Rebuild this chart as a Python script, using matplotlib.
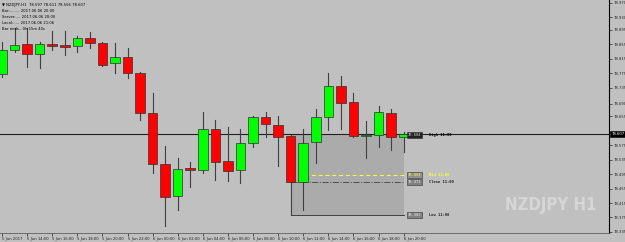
import matplotlib
matplotlib.use("Agg")
import matplotlib.pyplot as plt
from matplotlib.patches import Rectangle
from matplotlib.transforms import blended_transform_factory

# NZDJPY H1 bars, 5 Jun 12:00 .. 6 Jun 20:00
opens = [78.773, 78.840, 78.856, 78.829, 78.856, 78.853, 78.851, 78.873, 78.859, 78.804,
         78.820, 78.776, 78.665, 78.523, 78.435, 78.512, 78.507, 78.620, 78.532, 78.507,
         78.582, 78.654, 78.632, 78.601, 78.473, 78.584, 78.654, 78.740, 78.695, 78.601,
         78.604, 78.665, 78.597]
highs = [78.862, 78.901, 78.901, 78.862, 78.892, 78.892, 78.878, 78.890, 78.861, 78.859,
         78.845, 78.779, 78.720, 78.573, 78.540, 78.529, 78.668, 78.645, 78.626, 78.620,
         78.657, 78.668, 78.657, 78.604, 78.620, 78.676, 78.776, 78.768, 78.720, 78.643,
         78.684, 78.676, 78.611]
lows = [78.765, 78.834, 78.792, 78.790, 78.840, 78.826, 78.834, 78.845, 78.795, 78.776,
        78.762, 78.645, 78.498, 78.351, 78.396, 78.460, 78.498, 78.479, 78.476, 78.471,
        78.571, 78.598, 78.518, 78.382, 78.396, 78.526, 78.618, 78.620, 78.598, 78.540,
        78.571, 78.562, 78.556]
closes = [78.840, 78.853, 78.829, 78.856, 78.851, 78.848, 78.873, 78.859, 78.798, 78.820,
          78.776, 78.665, 78.523, 78.432, 78.510, 78.507, 78.620, 78.529, 78.504, 78.582,
          78.654, 78.634, 78.598, 78.473, 78.582, 78.654, 78.740, 78.693, 78.601, 78.604,
          78.668, 78.598, 78.607]

time_labels = ["5 Jun 2017", "5 Jun 14:00", "5 Jun 16:00", "5 Jun 18:00", "5 Jun 20:00",
               "5 Jun 22:00", "6 Jun 00:00", "6 Jun 02:00", "6 Jun 04:00", "6 Jun 06:00",
               "6 Jun 08:00", "6 Jun 10:00", "6 Jun 12:00", "6 Jun 14:00", "6 Jun 16:00",
               "6 Jun 18:00", "6 Jun 20:00"]
price_labels = ["78.970", "78.930", "78.895", "78.855", "78.815", "78.775", "78.735",
                "78.690", "78.655", "78.575", "78.535", "78.495", "78.455", "78.415",
                "78.375", "78.335"]
info_lines = ["Bar:........ 2017.06.06 20:00",
              "Server:.... 2017.06.06 20:00",
              "Local:..... 2017.06.06 21:06",
              "Bar ends.. 0h 15m 40s"]

ref_bar = 23          # the 11:00 bar used for the hi/lo box
ref_name = "11:00"

BG = "#c0c0c0"
EDGE = "#303030"
FS = 2.7

fig = plt.figure(figsize=(6.25, 2.42), dpi=100, facecolor=BG)
ax = fig.add_axes([0, 9 / 242, 609 / 625, 233 / 242], facecolor=BG)

n = len(opens)
px_per_bar = 12.55
x0 = -2 / px_per_bar
ax.set_xlim(x0, x0 + 609 / px_per_bar)
ax.set_ylim(78.332, 78.978)

# hi/lo box of reference bar
hi, lo, cl = highs[ref_bar], lows[ref_bar], closes[ref_bar]
mid = (hi + lo) / 2
last = n - 1
ax.add_patch(Rectangle((ref_bar, lo), last - ref_bar, hi - lo,
                       facecolor="#ababab", edgecolor="none", zorder=1))
ax.plot([ref_bar, ref_bar], [lo, hi], color="#404040", lw=0.7, zorder=1.5)
ax.plot([ref_bar, last], [lo, lo], color="#404040", lw=0.7, zorder=1.5)
ax.plot([ref_bar, last], [mid, mid], color="#ffff30", lw=0.7, ls=(0, (4, 3)), zorder=1.5)
ax.plot([ref_bar, last], [cl, cl], color="#505050", lw=0.7, ls="-.", zorder=1.5)

# bid line
ax.axhline(closes[-1], color="#202020", lw=0.8, zorder=1.6)

# candles
w = 0.76
for i in range(n):
    o, h, l, c = opens[i], highs[i], lows[i], closes[i]
    ax.plot([i, i], [l, h], color="#404040", lw=0.8, zorder=2)
    col = "#00ff00" if c > o else "#ff0000"
    bot, top = min(o, c), max(o, c)
    if top - bot < 0.0015:
        ax.plot([i - w / 2, i + w / 2], [o, o], color=EDGE, lw=0.8, zorder=3)
    else:
        ax.add_patch(Rectangle((i - w / 2, bot), w, top - bot, facecolor=col,
                               edgecolor=EDGE, lw=0.5, zorder=3))

# price tags and names for the box lines
tag_x = last + (407 - 403) / px_per_bar
name_x = last + (428 - 403) / px_per_bar
tags = [(hi, "High", "#000000", "#d8d8d8", "#202020"),
        (mid, "Mid", "#ffff30", "#ffff30", "#909090"),
        (cl, "Close", "#202020", "#f0f0f0", "#808080"),
        (lo, "Low", "#202020", "#f0f0f0", "#808080")]
for val, name, ncol, tcol, bcol in tags:
    ax.text(tag_x, val, f"{val:.3f}", fontsize=FS, color=tcol, va="center", ha="left",
            family="DejaVu Sans Mono", zorder=5,
            bbox=dict(boxstyle="square,pad=0.25", fc=bcol, ec="#303030", lw=0.4))
    ax.text(name_x, val, f"{name} {ref_name}", fontsize=FS, color=ncol, va="center",
            ha="left", family="DejaVu Sans Mono", fontweight="bold", zorder=5)

# axes styling
for s in ["left", "top"]:
    ax.spines[s].set_visible(False)
ax.spines["right"].set_color("black")
ax.spines["right"].set_linewidth(0.8)
ax.spines["bottom"].set_color("#606060")
ax.spines["bottom"].set_linewidth(0.6)

ax.yaxis.tick_right()
ax.set_yticks([float(p) for p in price_labels])
ax.set_yticklabels(price_labels)
ax.tick_params(axis="y", length=2, width=0.5, pad=1, labelsize=FS, colors="#202020")
ax.set_xticks(list(range(0, n, 2)))
ax.set_xticklabels(time_labels, ha="left")
ax.tick_params(axis="x", length=2, width=0.5, pad=1, labelsize=FS, colors="#202020")

# current price tag on the price axis
tr = blended_transform_factory(ax.transAxes, ax.transData)
ax.text(1.004, closes[-1], f"{closes[-1]:.3f}", transform=tr, fontsize=FS, color="white",
        va="center", ha="left", zorder=6, clip_on=False,
        bbox=dict(boxstyle="square,pad=0.3", fc="black", ec="black", lw=0.4))

# header text
header = (f"NZDJPY,H1  {opens[-1]:.3f} {highs[-1]:.3f} {lows[-1]:.3f} {closes[-1]:.3f}")
fig.text(2 / 625, 1 - 5 / 242, "\u25bc " + header, fontsize=FS, color="black", va="center")
for k, line in enumerate(info_lines):
    fig.text(2 / 625, 1 - (11 + 6 * k) / 242, line, fontsize=FS, color="black", va="center")

# watermark
fig.text(596 / 625, 1 - 205 / 242, "NZDJPY H1", fontsize=12, fontweight="bold",
         color="#d6d6d6", ha="right", va="center",
         family=["DejaVu Sans Condensed", "Liberation Sans Narrow", "DejaVu Sans"],
         fontstretch="condensed")

fig.savefig("out.png", dpi=100, facecolor=BG)
